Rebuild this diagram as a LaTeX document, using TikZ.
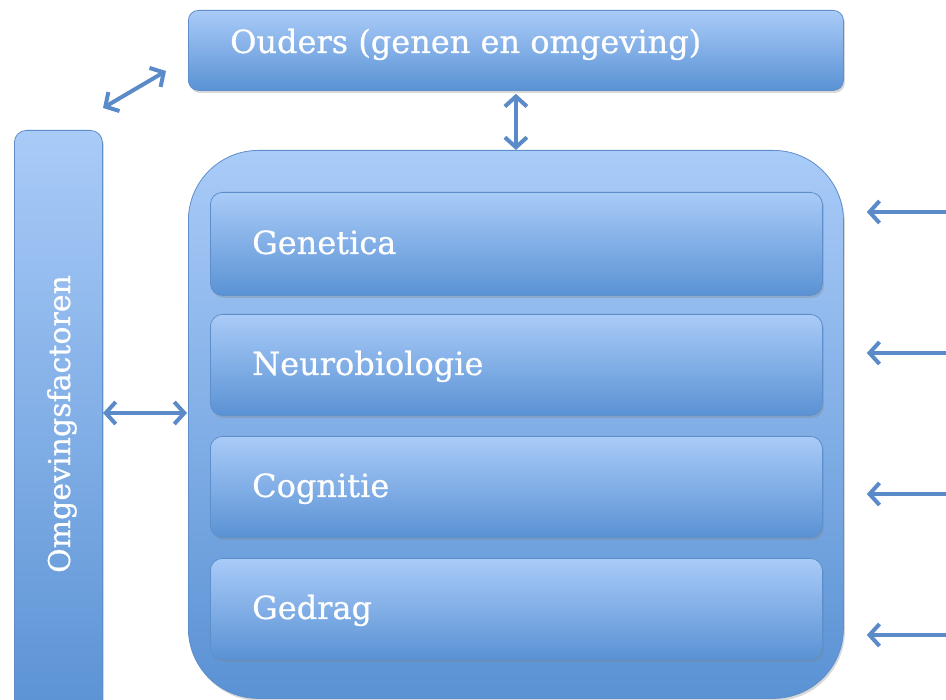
\documentclass[tikz,border=0pt]{standalone}
\usepackage{fontspec}
\setmainfont{DejaVu Serif}
\newfontfamily\lblfont{DejaVu Serif}[FakeBold=0.6]
\usetikzlibrary{arrows.meta,shadows}
\definecolor{boxtop}{HTML}{A9CBF8}
\definecolor{boxbot}{HTML}{5A92D4}
\definecolor{boxedge}{HTML}{5E8FCB}
\definecolor{arrowc}{HTML}{5A8BC8}
\begin{document}
\begin{tikzpicture}[x=1pt,y=1pt,
  box/.style={draw=boxedge, line width=0.8pt, top color=boxtop, bottom color=boxbot,
    drop shadow={opacity=0.3,shadow xshift=1.5pt,shadow yshift=-2.5pt},
    inner sep=0pt, anchor=north west},
  lbl/.style={text=white, font=\lblfont\fontsize{32}{36}\selectfont, inner sep=0pt, anchor=base west},
  tipb/.tip={Straight Barb[length=10pt,width=22pt]},
  arr/.style={draw=arrowc, line width=4pt, -tipb},
  darr/.style={draw=arrowc, line width=4pt, tipb-tipb}]
\useasboundingbox (0,0) rectangle (946,-700);
\clip (0,0) rectangle (946,-700);
\fill[white] (0,0) rectangle (946,-700);
% boxes
\node[box, rounded corners=10pt, minimum width=655pt, minimum height=80pt] (ouders) at (188,-10) {};
\node[box, rounded corners=12pt, minimum width=88pt, minimum height=590pt] (omg) at (14,-130) {};
\node[box, rounded corners=70pt, minimum width=655pt, minimum height=548pt] (outer) at (188,-150) {};
\node[box, rounded corners=12pt, minimum width=612pt, minimum height=103pt] (gen) at (210,-192) {};
\node[box, rounded corners=12pt, minimum width=612pt, minimum height=101pt] (neu) at (210,-314) {};
\node[box, rounded corners=12pt, minimum width=612pt, minimum height=101pt] (cog) at (210,-436) {};
\node[box, rounded corners=12pt, minimum width=612pt, minimum height=101pt] (ged) at (210,-558) {};
% labels
\node[lbl] (tOuders) at (230,-53) {Ouders (genen en omgeving)};
\node[lbl] (tGen) at (252,-254) {Genetica};
\node[lbl] (tNeu) at (252,-375) {Neurobiologie};
\node[lbl] (tCog) at (252,-497) {Cognitie};
\node[lbl] (tGed) at (252,-619) {Gedrag};
\node[lbl, anchor=base, rotate=90, font=\lblfont\fontsize{30}{34}\selectfont] (tOmg) at (70,-424) {Omgevingsfactoren};
% connectors
\draw[darr, shorten <=3pt] (ouders.south) -- (outer.north);
\coordinate (d1) at (103,-108);
\coordinate (d2) at (166,-71);
\draw[darr] (d1) -- (d2);
\coordinate (h1) at (102,-413);
\draw[darr, shorten <=1pt, shorten >=1pt] (h1) -- (h1 -| outer.west);
\coordinate (r1) at (946,-212);
\coordinate (r2) at (946,-353);
\coordinate (r3) at (946,-494);
\coordinate (r4) at (946,-635);
\foreach \r in {r1,r2,r3,r4}
  \draw[arr, shorten >=23pt] (\r) -- (\r -| outer.east);
\end{tikzpicture}
\end{document}
